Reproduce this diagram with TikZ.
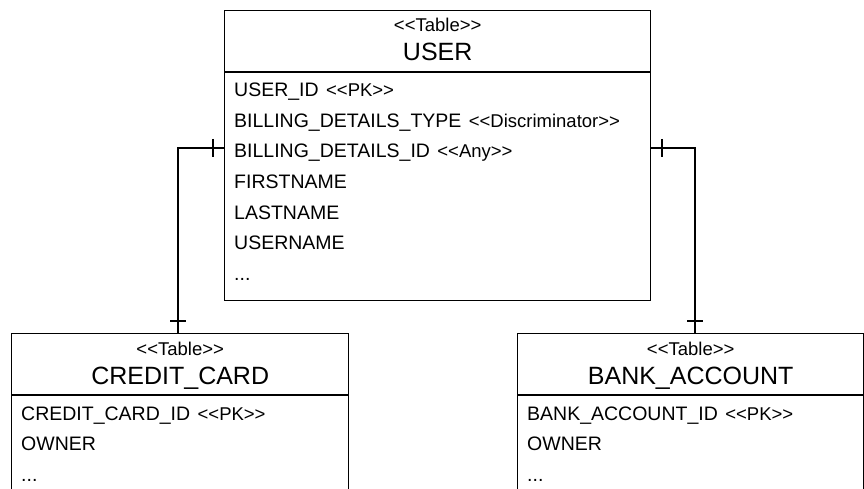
\documentclass[tikz,border=0pt]{standalone}
\usepackage{fontspec}
\setmainfont{Liberation Sans}[Ligatures=TeXOff]
\usetikzlibrary{positioning}
\tikzset{
  tbl/.style={draw, line width=1.4pt, anchor=north west, inner sep=0pt},
  stereo/.style={anchor=base, inner sep=0pt, font=\fontsize{18.5}{21}\selectfont},
  tname/.style={anchor=base, inner sep=0pt, font=\fontsize{25}{28}\selectfont},
  col/.style={anchor=base west, inner sep=0pt, font=\fontsize{19.5}{22}\selectfont},
  rel/.style={line width=1.2pt}
}
\newcommand{\tag}[1]{{\fontsize{18.5}{21}\selectfont\hspace{2pt}<<#1>>}}
\newcommand{\dbtable}[6]{\node[tbl, minimum width=#4pt, minimum height=#5pt] (#1) at (#2,#3) {};
  \draw[line width=1.4pt] ([yshift=-62pt]#1.north west) -- ([yshift=-62pt]#1.north east);
  \node[stereo] (#1st) at ([yshift=-22pt]#1.north) {<<Table>>};
  \node[tname] (#1nm) at ([yshift=-51pt]#1.north) {#6};}
\newcommand{\dbcol}[4]{\node[col] (#1) at ([xshift=10pt,yshift=-87pt-30.5pt*#3]#2.north west) {#4};}
\newcommand{\vtick}[2]{\draw[rel] (#1,#2-9) -- (#1,#2+9);}
\newcommand{\htick}[2]{\draw[rel] (#1-8,#2) -- (#1+8,#2);}

\begin{document}
\begin{tikzpicture}[x=1pt,y=-1pt]
    \useasboundingbox (0,0) rectangle (864,489);
    \dbtable{user}{224}{10}{426}{290}{USER}
    \dbcol{uid}{user}{0}{USER\_ID \tag{PK}}    \dbcol{btype}{user}{1}{BILLING\_DETAILS\_TYPE \tag{Discriminator}}
    \dbcol{bid}{user}{2}{BILLING\_DETAILS\_ID \tag{Any}}    \dbcol{fname}{user}{3}{FIRSTNAME}
    \dbcol{lname}{user}{4}{LASTNAME}    \dbcol{uname}{user}{5}{USERNAME}
    \dbcol{umore}{user}{6}{...}
    \dbtable{cc}{11}{333}{337}{200}{CREDIT\_CARD}
    \dbcol{ccid}{cc}{0}{CREDIT\_CARD\_ID \tag{PK}}    \dbcol{ccown}{cc}{1}{OWNER}
    \dbcol{ccmore}{cc}{2}{...}
    \dbtable{ba}{517}{333}{346}{200}{BANK\_ACCOUNT}
    \dbcol{baid}{ba}{0}{BANK\_ACCOUNT\_ID \tag{PK}}    \dbcol{baown}{ba}{1}{OWNER}
    \dbcol{bamore}{ba}{2}{...}
    \draw[rel] (user.west |- 0,148) -| (cc.north -| 178,0);
    \draw[rel] (user.east |- 0,148) -| (ba.north -| 695,0);
    \vtick{213}{148}\htick{178}{321}
    \vtick{662}{148}\htick{695}{321}
\end{tikzpicture}
\end{document}
